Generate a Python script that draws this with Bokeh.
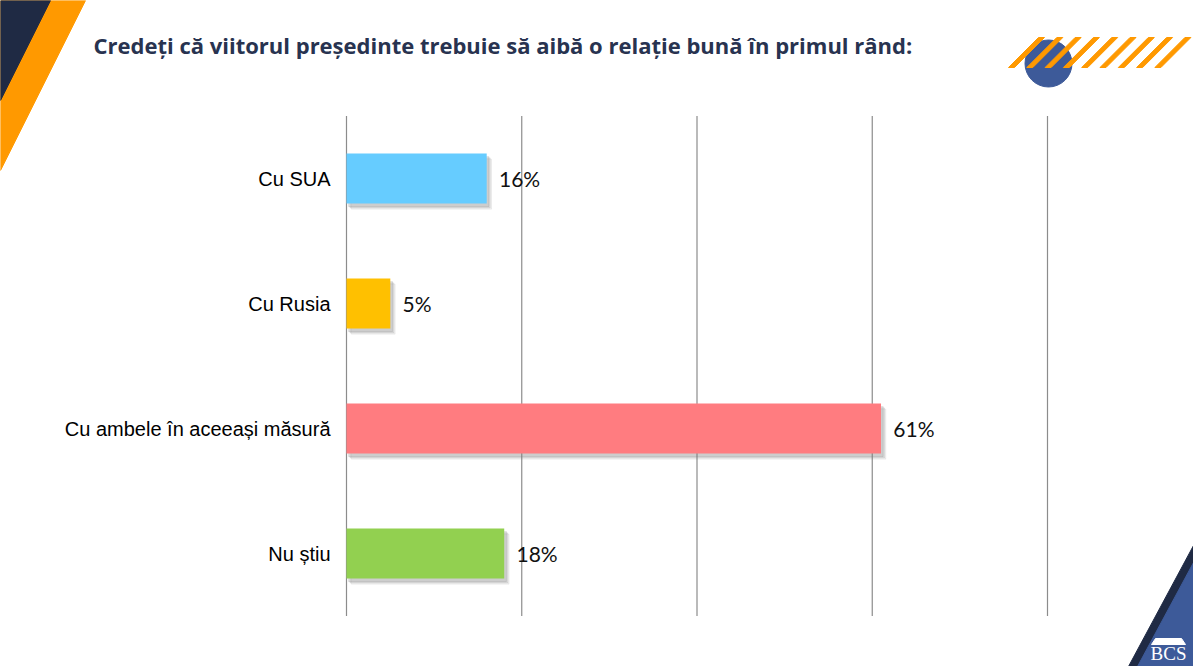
from bokeh.plotting import figure
from bokeh.models import Range1d, ColumnDataSource
from bokeh.core.properties import value
from bokeh.embed import file_html
from bokeh.resources import INLINE

# ---- data ----
categories = ["Cu SUA", "Cu Rusia", "Cu ambele în aceeași măsură", "Nu știu"]
percents = [16, 5, 61, 18]
bar_colors = ["#66CCFF", "#FFC000", "#FF7C80", "#92D050"]
x_ticks = [0, 20, 40, 60, 80]
title_text = "Credeți că viitorul președinte trebuie să aibă o relație bună în primul rând:"

W, H = 1193, 666
# data <-> pixel layout: x 0..80 spans px 346..1047 ; category rows 125 px apart
px_per_pct = (1047 - 346) / 80.0
x0 = -346 / px_per_pct
x1 = (W - 346) / px_per_pct
ypos = [len(categories) - 1 - i for i in range(len(categories))]  # 3,2,1,0
y_top = 553 / 125.0
y_bot = -(H - 553) / 125.0

p = figure(width=W, height=H, output_backend="svg", toolbar_location=None,
           x_range=Range1d(x0, x1), y_range=Range1d(y_bot, y_top),
           min_border=0, outline_line_color=None)
p.axis.visible = False
p.grid.visible = False
p.background_fill_color = "white"
p.border_fill_color = "white"
p.extra_x_ranges = {"px": Range1d(0, W)}
p.extra_y_ranges = {"px": Range1d(H, 0)}

# ---- decorations (pixel space) ----
# top-left
p.patch([0, 85, 0], [0, 0, 170], color="#FF9900", x_range_name="px", y_range_name="px")
p.patch([0, 50, 0], [0, 0, 100], color="#1F2A44", x_range_name="px", y_range_name="px")
# top-right circle + stripes
p.scatter([1048], [63], size=47, color="#3D5A99", x_range_name="px", y_range_name="px")
sx, sy = [], []
for k in range(9):
    bx = 1008 + k * 18.3
    sx.append([bx, bx + 6, bx + 6 + 30, bx + 30])
    sy.append([67, 67, 37, 37])
p.patches(sx, sy, color="#FF9900", x_range_name="px", y_range_name="px")
# bottom-right
p.patch([1128, 1193, 1193], [666, 545, 666], color="#1F2A44", x_range_name="px", y_range_name="px")
p.patch([1137, 1193, 1193], [666, 562, 666], color="#3D5A99", x_range_name="px", y_range_name="px")
p.text([1168], [663], text=["BCS"], text_color="white", text_font=value("Liberation Serif"),
       text_font_size="19px", text_align="center", text_baseline="bottom",
       x_range_name="px", y_range_name="px")
p.patch([1151, 1185, 1181, 1155], [644, 644, 638, 638], color="white",
        x_range_name="px", y_range_name="px")

# ---- title ----
p.text([93], [44], text=[title_text], text_color="#283350", text_font=value("Open Sans"),
       text_font_style="bold", text_font_size="22px", text_baseline="middle",
       x_range_name="px", y_range_name="px")

# ---- grid lines ----
p.segment(x0=x_ticks, x1=x_ticks, y0=[3.5] * len(x_ticks), y1=[-0.5] * len(x_ticks),
          line_color="#8C8C8C", line_width=1.2)

# ---- bars ----
src = ColumnDataSource(dict(y=ypos, v=percents, c=bar_colors, cat=categories,
                            lab=[f"{v}%" for v in percents],
                            lx=[v + 1.4 for v in percents]))
for dx, dy, a in [(0.55, -0.045, 0.10), (0.4, -0.035, 0.15), (0.25, -0.025, 0.2)]:
    p.hbar(y=[yy + dy for yy in ypos], left=[dx] * 4, right=[v + dx for v in percents],
           height=0.4, color="#7F7F7F", alpha=a)
p.hbar(y="y", left=0, right="v", height=0.4, fill_color="c", line_color=None, source=src)

# value labels
p.text(x="lx", y="y", text="lab", source=src, text_font=value("Lato"),
       text_font_size="21px", text_color="#111111", text_baseline="middle")
# category labels
p.text(x=[-16.0 / px_per_pct] * 4, y=ypos, text=categories, text_font=value("Liberation Sans"),
       text_font_size="20px", text_color="#000000", text_align="right", text_baseline="middle")

open("out.html", "w").write(file_html(p, INLINE))
